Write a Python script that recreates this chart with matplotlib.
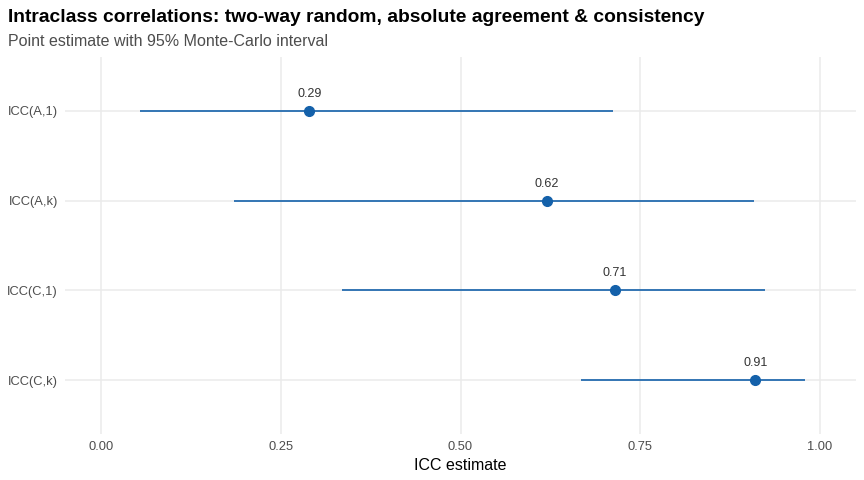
import matplotlib
matplotlib.use("Agg")
import matplotlib.pyplot as plt

plt.rcParams["font.family"] = ["Liberation Sans", "DejaVu Sans"]

# ICC estimates with 95% Monte-Carlo intervals
labels = ["ICC(A,1)", "ICC(A,k)", "ICC(C,1)", "ICC(C,k)"]
estimates = [0.29, 0.62, 0.715, 0.91]
lower = [0.054, 0.185, 0.335, 0.668]
upper = [0.712, 0.908, 0.923, 0.979]
value_labels = ["0.29", "0.62", "0.71", "0.91"]
x_ticks = [0.0, 0.25, 0.5, 0.75, 1.0]
x_ticklabels = ["0.00", "0.25", "0.50", "0.75", "1.00"]

blue = "#1461aa"
grid = "#ebebeb"

fig = plt.figure(figsize=(8.64, 4.8), dpi=100)
ax = fig.add_axes([65 / 864, 46 / 480, 791 / 864, 377 / 480])

ys = list(range(len(labels)))[::-1]
for y, est, lo, hi, txt in zip(ys, estimates, lower, upper, value_labels):
    ax.plot([lo, hi], [y, y], color=blue, lw=1.2, solid_capstyle="butt", zorder=3)
    ax.plot(est, y, "o", color=blue, ms=7, zorder=4)
    ax.annotate(txt, (est, y), xytext=(0, 8), textcoords="offset points",
                ha="center", va="bottom", fontsize=9, color="#333333")

ax.set_xlim(-0.05, 1.05)
ax.set_ylim(-0.6, len(labels) - 0.4)
ax.set_xticks(x_ticks)
ax.set_xticklabels(x_ticklabels)
ax.set_yticks(ys)
ax.set_yticklabels(labels)
ax.tick_params(length=0, labelsize=9.3, labelcolor="#4d4d4d", pad=5)
ax.grid(True, color=grid, lw=1.1, zorder=0)
ax.set_axisbelow(True)
for s in ax.spines.values():
    s.set_visible(False)
ax.set_xlabel("ICC estimate", fontsize=11.5, color="black", labelpad=4)

fig.text(8 / 864, 1 - 17 / 480, "Intraclass correlations: two-way random, absolute agreement & consistency",
         fontsize=13.85, fontweight="bold", va="center", ha="left")
fig.text(8 / 864, 1 - 41 / 480, "Point estimate with 95% Monte-Carlo interval",
         fontsize=11.5, color="#4d4d4d", va="center", ha="left")

fig.savefig("out.png", dpi=100)
